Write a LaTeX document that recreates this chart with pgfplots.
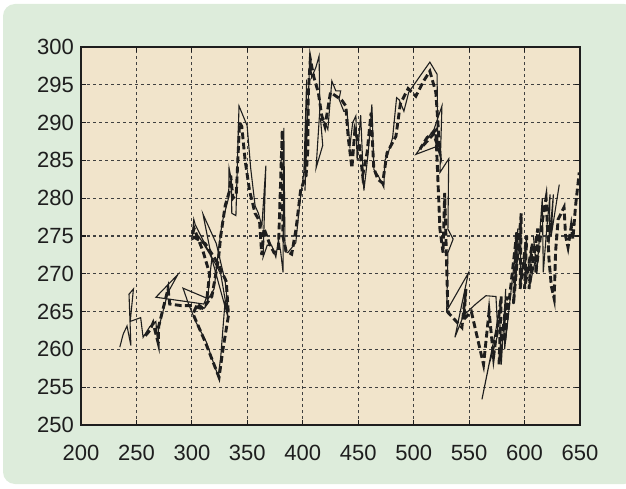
\documentclass[border=0pt]{standalone}
\usepackage{pgfplots}
\pgfplotsset{compat=1.18}
\usepackage{fontspec}
\setmainfont{Liberation Sans}
\definecolor{bggreen}{RGB}{221,236,219}
\definecolor{plotbg}{RGB}{241,228,203}
\definecolor{ink}{RGB}{30,30,30}
\begin{document}
\begin{tikzpicture}[x=1pt,y=1pt]
\useasboundingbox (0,0) rectangle (313,244);
\fill[bggreen, rounded corners=6pt] (1.5,2) rectangle (318,242);
\begin{axis}[
  at={(40.5pt,31.5pt)}, anchor=south west,
  width=249.5pt, height=189pt, scale only axis,
  xmin=200, xmax=650, ymin=250, ymax=300,
  xtick={200,250,...,650}, ytick={250,255,...,300},
  axis background/.style={fill=plotbg},
  axis line style={line width=1.1pt, ink},
  grid=major,
  major grid style={dash pattern=on 1.6pt off 1.4pt, black!75, line width=0.55pt},
  tick align=inside, major tick length=2.5pt,
  tick style={ink, line width=0.6pt},
  /pgf/number format/assume math mode=true,
  /pgf/number format/1000 sep={},
  ticklabel style={font=\fontsize{11}{12}\selectfont, text=ink},
  xticklabel style={yshift=-6.5pt},
  yticklabel style={xshift=0pt},
  clip=true,
]
\addplot[ink, line width=0.55pt] coordinates {
(235,260.3) (238,262) (241.5,263.1) (245,260.5) (243.3,267.3) (247.3,268) (244.4,263.7)
(253.8,264.2) (256,261.6) (262,263) (267.5,263.7) (269,261) (270,262.8) (278.3,267.5)
(287.3,269.9) (267.5,266.9) (310.8,266) (313,266.8) (292,268.1) (297,266) (304,263.5)
(313,261) (323.8,256.4) (326,259) (330,266.5) (332.8,265.2) (330,269) (322,274)
(310,277.9) (318,272) (333,264) (326,270) (315,273) (303,276.5) (301.7,277.2) (300,274.5)
(306,275) (316.2,272.6) (318,272) (316,269.5) (314,266.5) (320,268) (326,275.5) (328,277.2)
(333.2,280.1) (333.5,284) (335.5,282.5) (336,278) (339.7,277.7) (342.5,292.2) (349.8,289.6)
(353,284) (357,279) (360,278) (363.1,276.3) (366.7,284.3) (364.2,272.2) (368,273.8)
(372.1,273.7) (375.7,272.2) (378,274.5) (380,273) (382.2,270.2) (382.9,289.3) (384,273)
(386.5,272.8) (393.7,274.1) (397,279) (401,283.5) (403.5,295.7) (402,281) (406.4,298.8)
(408,296) (411.8,297.3) (414.7,298.8) (415.4,291.8) (412,284) (418,287) (416,290.5)
(420,290) (422.6,289.1) (426.2,295.5) (429.8,294.2) (434.2,294.2) (432.7,293.1) (437,291.5)
(439.9,291.5) (442.5,286.9) (445,290) (447.9,290.9) (449,285) (452.2,291) (455.1,281)
(459,286) (462.3,292.4) (464.1,283.8) (468,283) (473.1,281.4) (474,285) (476.7,285.8)
(481,288) (484.6,293.3) (487,293) (491.2,291.5) (495.5,294) (505,296) (514.6,298)
(521.1,296.4) (521.8,286.9) (502,285.8) (518.3,289.1) (525.5,292.2) (523.7,283.4)
(531.6,285.2) (530.9,275.9) (535.6,274.6) (530.9,272.8) (529.8,265.1) (549.3,270.1)
(537.2,261.6) (545,264.5) (556,266) (565.1,267.1) (574.2,267) (576,262) (568,258)
(561.6,253.4) (577.4,265) (579,258) (583,268) (582,260) (594,276) (590,266)
(597,277.5) (596,268) (602,275) (600,268) (607,274) (604,268) (610,272)
(608,275) (611,270) (616,280) (616.9,270.2) (620,276) (623,280.5)
(622,274) (626,280.5) (624,275) (631.3,281.8)
};
\addplot[ink, line width=1.45pt, dash pattern=on 3.4pt off 1.7pt] coordinates {
(258,261.8) (262,262.5) (265,263.5) (269.7,260.8) (270,263) (278.5,268) (280,266)
(290,265.8) (300,265.8) (311,265.3) (305,266) (301,264.7) (312,261) (324.5,256.3)
(328,260) (333,264.5) (331,269) (323,271.5) (312,274) (300,275) (302,276) (310,273)
(316,270) (313,266) (318,267) (324,272) (326,275) (330,279) (334,281) (335,283) (337,280)
(340,280.5) (343,290) (345,289.5) (348,285) (352,281) (357,278) (361,277) (363,272.5)
(365,276) (370,274) (374,272.8) (378,273) (381.5,289) (382,275) (385,273) (390,272.6)
(394,276) (398,281) (403,283) (404.6,286.5) (405,294) (406.8,298.4) (410,296) (414,294)
(417,291) (420,289.5) (425,294) (430,293.5) (435,293) (438.8,292.2) (441,288) (444.3,284)
(447,289) (451,287) (454,283) (458,286) (461.6,291.3) (464,284) (467.7,282.5) (472,282)
(476,286) (484,288.2) (488,292.5) (495,294.5) (502,293.5) (509,295.5) (514.6,296.8)
(520,294) (523.7,286) (518,288.5) (505.7,286.5) (512,288) (520,289) (523.7,275.9)
(526.5,272.8) (528,280.7) (530.9,264.9) (543.5,262.9) (547.1,268) (545.3,264) (552,265)
(563,258) (568,265) (572,259) (579,267) (577,258) (584,267) (582,261) (593,275.5)
(590,266) (597,278) (596,268) (602,275) (600,268) (607,274) (604,268) (612,276)
(610,270) (617,278) (619.4,280) (622,272) (624.1,268.4)
(626.7,266.7) (628,273) (630.3,277.2) (635.6,278.8) (637,275) (639.2,273.5) (642.1,276.3)
(643.6,274.6) (646,279) (649.3,283.4)
};
\end{axis}
\end{tikzpicture}
\end{document}
